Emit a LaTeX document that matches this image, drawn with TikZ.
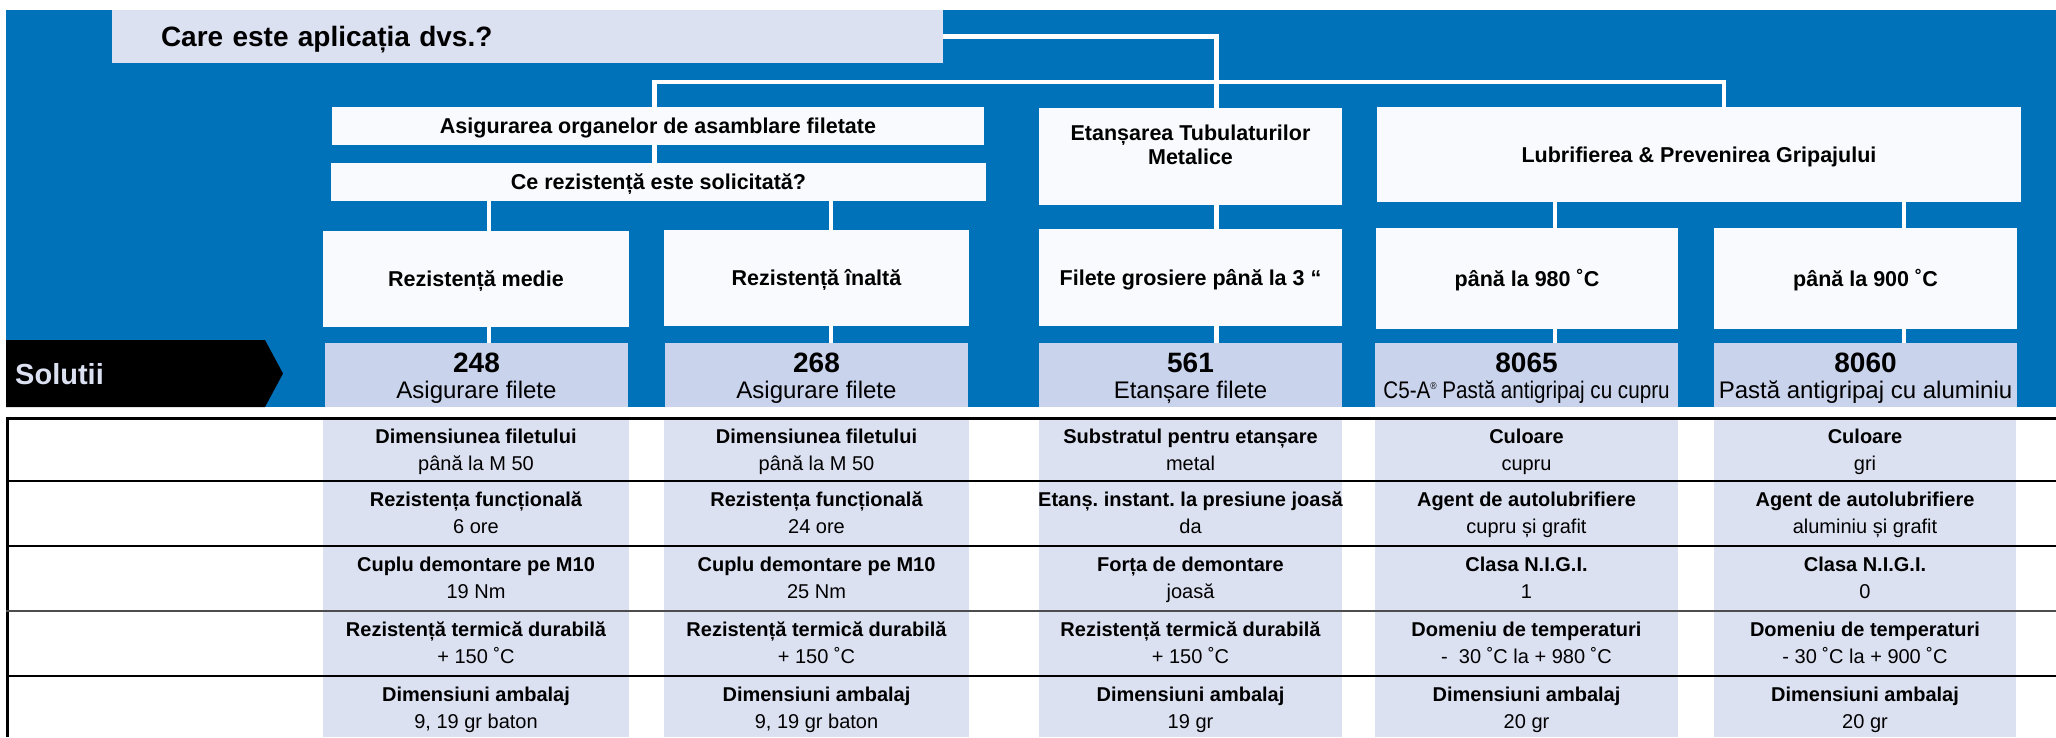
\documentclass[tikz,border=0pt]{standalone}
\usepackage{fontspec}
\setmainfont{Liberation Sans}
\frenchspacing
\definecolor{bgblue}{HTML}{0072BA}
\definecolor{lav}{HTML}{DCE1F2}
\definecolor{solf}{HTML}{C9D3EC}
\definecolor{boxw}{HTML}{F9FAFD}
\definecolor{rowgray}{HTML}{4D4D4D}
\newcommand\tcell[5]{%
  \node[ttl] (#1t) at (#2,#3+25.5) {#4};
  \node[val] (#1v) at (#2,#3+52) {#5};}
\begin{document}
\begin{tikzpicture}[x=1pt,y=-1pt,
  qbox/.style={fill=lav, minimum width=831pt, minimum height=53pt, text width=733pt,
    inner xsep=49pt, inner ysep=0pt, align=left,
    font=\fontsize{28}{32}\selectfont\bfseries, text height=20pt, text depth=0pt},
  wbox/.style={fill=boxw, inner sep=0pt, align=center,
    font=\fontsize{21.5}{23.7}\selectfont\bfseries, text height=15.5pt, text depth=0pt},
  sbox/.style={fill=solf, inner sep=0pt, minimum width=303pt, minimum height=64pt},
  numf/.style={anchor=base, inner sep=0pt, font=\fontsize{28}{32}\selectfont\bfseries},
  subf/.style={anchor=base, inner sep=0pt, font=\fontsize{24}{28}\selectfont},
  ttl/.style={anchor=base, inner sep=0pt, font=\fontsize{20}{24}\selectfont\bfseries},
  val/.style={anchor=base, inner sep=0pt, font=\fontsize{20}{24}\selectfont},
  conn/.style={draw=white, line width=4.5pt},
  rowline/.style={draw=black, line width=2pt}]
\useasboundingbox (0,0) rectangle (2056,737);
\fill[white] (0,0) rectangle (2056,737);
\fill[bgblue] (6,10) rectangle (2056,407);

% connector x positions
\coordinate (k0) at (654.5,0);
\coordinate (k1) at (489,0);
\coordinate (k2) at (831,0);
\coordinate (k3) at (1216.5,0);
\coordinate (k4) at (1555,0);
\coordinate (k5) at (1904,0);
\coordinate (k7) at (1724,0);
\coordinate (bus) at (0,82);

% question
\node[qbox] (q) at (527.5,36.5) {Care este aplicația dvs.?};

% decision boxes
\node[wbox, minimum width=652pt, minimum height=38pt] (asig) at (658,126) {Asigurarea organelor de asamblare filetate};
\node[wbox, minimum width=655pt, minimum height=38pt] (ce) at (658.5,182) {Ce rezistență este solicitată?};
\node[wbox, minimum width=306pt, minimum height=96pt] (med) at (476,279) {Rezistență medie};
\node[wbox, minimum width=305pt, minimum height=96pt] (ina) at (816.5,278) {Rezistență înaltă};
\node[wbox, minimum width=303pt, minimum height=97pt] (et) at (1190.5,156.5) {Etanșarea Tubulaturilor\\Metalice};
\node[wbox, minimum width=644pt, minimum height=95pt] (lub) at (1699,154.5) {Lubrifierea \& Prevenirea Gripajului};
\node[wbox, minimum width=303pt, minimum height=97pt] (fil) at (1190.5,277.5) {Filete grosiere până la 3 “};
\node[wbox, minimum width=302pt, minimum height=101pt] (t980) at (1527,278.5) {până la 980 ˚C};
\node[wbox, minimum width=303pt, minimum height=101pt] (t900) at (1865.5,278.5) {până la 900 ˚C};

% solution boxes
\node[sbox] (s248) at (476.5,375) {};
\node[sbox] (s268) at (816.5,375) {};
\node[sbox] (s561) at (1190.5,375) {};
\node[sbox] (s8065) at (1526.5,375) {};
\node[sbox] (s8060) at (1865.5,375) {};
\node[numf] (n248) at (476.5,372.7) {248};
\node[subf] (d248) at (476.5,398.3) {Asigurare filete};
\node[numf] (n268) at (816.5,372.7) {268};
\node[subf] (d268) at (816.5,398.3) {Asigurare filete};
\node[numf] (n561) at (1190.5,372.7) {561};
\node[subf] (d561) at (1190.5,398.3) {Etanșare filete};
\node[numf] (n8065) at (1526.5,372.7) {8065};
\node[subf] (d8065) at (1526.5,398.3) {\scalebox{0.86}[1]{C5-A\raisebox{9pt}{\fontsize{10}{10}\selectfont ®} Pastă antigripaj cu cupru}};
\node[numf] (n8060) at (1865.5,372.7) {8060};
\node[subf] (d8060) at (1865.5,398.3) {Pastă antigripaj cu aluminiu};

% connectors
\draw[conn] (q.east) -| (et.north -| k3);
\draw[conn] (asig.north -| k0) -- (k0 |- bus) -- (k7 |- bus) -- (lub.north -| k7);
\draw[conn] (asig.south -| k0) -- (ce.north -| k0);
\draw[conn] (ce.south -| k1) -- (med.north -| k1);
\draw[conn] (med.south -| k1) -- (s248.north -| k1);
\draw[conn] (ce.south -| k2) -- (ina.north -| k2);
\draw[conn] (ina.south -| k2) -- (s268.north -| k2);
\draw[conn] (et.south -| k3) -- (fil.north -| k3);
\draw[conn] (fil.south -| k3) -- (s561.north -| k3);
\draw[conn] (lub.south -| k4) -- (t980.north -| k4);
\draw[conn] (t980.south -| k4) -- (s8065.north -| k4);
\draw[conn] (lub.south -| k5) -- (t900.north -| k5);
\draw[conn] (t900.south -| k5) -- (s8060.north -| k5);

% Solutii tag
\fill[black] (6,340) -- (265,340) -- (283,373.5) -- (265,407) -- (6,407) -- cycle;
\node[anchor=base west, inner sep=0pt, text=lav, font=\fontsize{29}{32}\selectfont\bfseries] (sol) at (15,384.3) {Solutii};

% table column shading
\fill[lav] (323,418) rectangle (629,737);
\fill[lav] (664,418) rectangle (969,737);
\fill[lav] (1039,418) rectangle (1342,737);
\fill[lav] (1375,418) rectangle (1678,737);
\fill[lav] (1714,418) rectangle (2016,737);

% table lines
\draw[line width=3pt] (6,418) -- (2056,418);
\draw[line width=3pt] (7.5,418) -- (7.5,737);
\draw[rowline] (6,481) -- (2056,481);
\draw[rowline] (6,546) -- (2056,546);
\draw[rowline, draw=rowgray, line width=2.5pt] (6,611) -- (2056,611);
\draw[rowline] (6,676) -- (2056,676);

% table cells: column 1
\tcell{a1}{476}{418}{Dimensiunea filetului}{până la M 50}
\tcell{a2}{476}{481}{Rezistența funcțională}{6 ore}
\tcell{a3}{476}{546}{Cuplu demontare pe M10}{19 Nm}
\tcell{a4}{476}{611}{Rezistență termică durabilă}{+ 150 ˚C}
\tcell{a5}{476}{676}{Dimensiuni ambalaj}{9, 19 gr baton}
% column 2
\tcell{b1}{816.5}{418}{Dimensiunea filetului}{până la M 50}
\tcell{b2}{816.5}{481}{Rezistența funcțională}{24 ore}
\tcell{b3}{816.5}{546}{Cuplu demontare pe M10}{25 Nm}
\tcell{b4}{816.5}{611}{Rezistență termică durabilă}{+ 150 ˚C}
\tcell{b5}{816.5}{676}{Dimensiuni ambalaj}{9, 19 gr baton}
% column 3
\tcell{c1}{1190.5}{418}{Substratul pentru etanșare}{metal}
\tcell{c2}{1190.5}{481}{Etanș. instant. la presiune joasă}{da}
\tcell{c3}{1190.5}{546}{Forța de demontare}{joasă}
\tcell{c4}{1190.5}{611}{Rezistență termică durabilă}{+ 150 ˚C}
\tcell{c5}{1190.5}{676}{Dimensiuni ambalaj}{19 gr}
% column 4
\tcell{d1}{1526.5}{418}{Culoare}{cupru}
\tcell{d2}{1526.5}{481}{Agent de autolubrifiere}{cupru și grafit}
\tcell{d3}{1526.5}{546}{Clasa N.I.G.I.}{1}
\tcell{d4}{1526.5}{611}{Domeniu de temperaturi}{-\ \ 30 ˚C la + 980 ˚C}
\tcell{d5}{1526.5}{676}{Dimensiuni ambalaj}{20 gr}
% column 5
\tcell{e1}{1865}{418}{Culoare}{gri}
\tcell{e2}{1865}{481}{Agent de autolubrifiere}{aluminiu și grafit}
\tcell{e3}{1865}{546}{Clasa N.I.G.I.}{0}
\tcell{e4}{1865}{611}{Domeniu de temperaturi}{- 30 ˚C la + 900 ˚C}
\tcell{e5}{1865}{676}{Dimensiuni ambalaj}{20 gr}
\end{tikzpicture}
\end{document}
